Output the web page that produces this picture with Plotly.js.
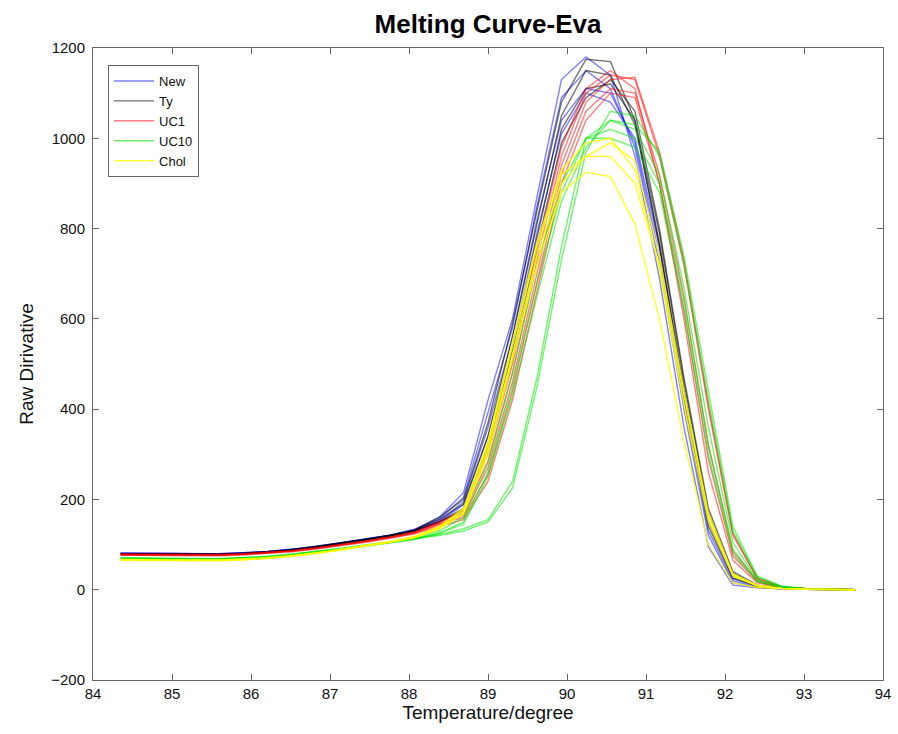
<!DOCTYPE html>
<html>
<head>
<meta charset="utf-8">
<script src="https://cdn.plot.ly/plotly-3.0.1.min.js"></script>
<style>html,body{margin:0;padding:0;background:#fff;}#chart{width:898px;height:734px;}</style>
</head>
<body>
<div id="chart"></div>
<script>
// Temperature grid (degree)
const temperature = [84.35, 84.66, 84.97, 85.28, 85.59, 85.90, 86.21, 86.52, 86.83, 87.14,
  87.45, 87.76, 88.07, 88.38, 88.69, 89.00, 89.31, 89.62, 89.93, 90.24,
  90.55, 90.86, 91.17, 91.48, 91.79, 92.10, 92.41, 92.72, 93.03, 93.34, 93.65];

const groupNames = ["New", "Ty", "UC1", "UC10", "Chol"];

// New (blue)
const newCurves = [
  [82,82,81,80,80,82,85,90,96,104,112,121,133,160,215,420,600,870,1130,1180,1140,960,690,360,95,10,4,2,1,1,0],
  [81,81,80,80,80,82,85,90,96,104,112,121,134,156,205,390,580,850,1090,1150,1110,980,720,400,120,15,5,2,1,1,0],
  [80,80,80,79,79,81,84,89,95,103,111,120,132,152,195,360,560,820,1040,1110,1100,990,740,420,130,20,6,2,1,1,0],
  [80,80,79,79,79,81,84,89,95,103,111,120,131,150,188,340,540,790,1010,1100,1080,1000,760,440,150,25,8,3,1,1,0]
];
// Ty (black)
const tyCurves = [
  [80,80,79,79,79,81,84,89,96,104,112,121,132,160,200,370,590,840,1080,1175,1170,1040,760,430,140,25,8,3,1,1,0],
  [79,79,79,78,78,80,83,88,95,103,111,120,131,155,190,340,560,810,1050,1150,1140,1030,770,440,150,30,8,3,1,1,0],
  [79,79,78,78,78,80,83,88,94,102,110,119,130,150,180,320,530,780,1020,1110,1120,1040,790,460,170,35,10,3,1,1,0],
  [78,78,78,77,77,79,82,87,93,101,109,118,129,150,175,310,510,760,990,1090,1130,1060,800,470,180,40,10,3,1,1,0]
];
// UC1 (red)
const uc1Curves = [
  [79,79,78,78,78,80,83,87,93,100,108,117,128,150,175,300,500,750,980,1110,1150,1110,900,600,260,65,15,5,2,1,0],
  [78,78,77,77,77,79,82,86,92,99,107,116,127,148,170,285,480,730,960,1100,1140,1130,960,720,400,120,25,6,2,1,0],
  [78,78,77,77,77,79,82,86,92,99,107,116,126,145,165,270,460,700,940,1080,1130,1135,970,730,410,125,25,6,2,1,0],
  [77,77,76,76,76,78,81,85,91,98,106,115,125,145,160,255,440,680,920,1060,1110,1100,920,650,320,85,20,5,2,1,0],
  [76,76,76,75,75,77,80,84,90,97,105,114,124,140,155,240,420,660,900,1040,1100,1090,900,620,290,75,18,5,2,1,0]
];
// UC10 (green)
const uc10Curves = [
  [71,70,69,69,69,71,74,79,85,92,99,106,114,122,135,155,240,470,760,1000,1040,1030,970,740,440,140,30,8,2,1,0],
  [70,69,68,68,68,70,73,78,84,91,98,105,113,120,130,150,225,450,730,970,1060,1050,960,720,420,130,28,7,2,1,0],
  [69,68,68,67,67,69,72,77,83,90,97,104,112,125,150,260,450,680,880,1000,1020,1000,900,640,320,90,20,5,2,1,0],
  [70,69,68,68,68,70,73,78,84,91,98,105,114,130,160,280,480,720,900,1000,1000,980,880,620,300,80,18,5,2,1,0],
  [68,67,67,66,66,68,71,76,82,89,96,103,111,125,145,250,430,650,860,980,1040,1020,920,670,360,105,22,6,2,1,0]
];
// Chol (yellow)
const cholCurves = [
  [67,66,66,66,66,68,71,76,82,90,98,107,118,140,180,330,550,770,930,990,1000,930,710,410,150,30,8,3,1,1,0],
  [66,66,65,65,65,67,70,75,81,89,97,106,117,138,175,320,540,760,920,960,990,950,740,440,170,35,10,3,1,1,0],
  [66,65,65,65,65,67,70,75,81,89,97,106,116,135,170,310,520,740,900,960,960,900,720,430,160,32,9,3,1,1,0],
  [65,65,64,64,64,66,69,74,80,88,96,105,115,135,168,300,510,720,880,925,915,810,600,330,100,15,5,2,1,1,0]
];

const groupCurves = [newCurves, tyCurves, uc1Curves, uc10Curves, cholCurves];
const lineColors = ["rgba(0,0,255,0.5)", "rgba(0,0,0,0.55)", "rgba(255,0,0,0.5)", "rgba(0,230,0,0.55)", "rgba(255,255,0,0.85)"];

const traces = [];
groupCurves.forEach((curves, g) => {
  curves.forEach((ys, i) => {
    traces.push({
      x: temperature, y: ys, type: 'scatter', mode: 'lines',
      name: groupNames[g], legendgroup: groupNames[g], showlegend: i === 0,
      line: {color: lineColors[g], width: 1.4},
      hoverinfo: 'skip'
    });
  });
});

const FONT = 'Arial, Liberation Sans, sans-serif';
const axisCommon = {
  showgrid: false, zeroline: false, showline: true, linecolor: '#666', linewidth: 1,
  mirror: 'ticks', ticks: 'inside', ticklen: 6, tickcolor: '#666',
  tickfont: {family: FONT, size: 15, color: '#111'}
};

const layout = {
  width: 898, height: 734,
  margin: {l: 93, r: 15, t: 48, b: 54},
  paper_bgcolor: '#fff', plot_bgcolor: '#fff',
  title: {text: '<b>Melting Curve-Eva</b>', font: {family: FONT, size: 26, color: '#000'},
          xref: 'paper', x: 0.5, xanchor: 'center', y: 0.968, yanchor: 'middle'},
  xaxis: Object.assign({}, axisCommon, {
    range: [84, 94], dtick: 1, tick0: 84,
    title: {text: 'Temperature/degree', font: {family: FONT, size: 19, color: '#111'}, standoff: 2}
  }),
  yaxis: Object.assign({}, axisCommon, {
    range: [-200, 1200], dtick: 200, tick0: -200, ticklabelstandoff: 4,
    title: {text: 'Raw Dirivative', font: {family: FONT, size: 19, color: '#111'}, standoff: 12}
  }),
  legend: {
    x: 0.019, y: 0.973, xanchor: 'left', yanchor: 'top',
    bgcolor: '#fff', bordercolor: '#666', borderwidth: 1,
    font: {family: FONT, size: 13, color: '#111'},
    tracegroupgap: 0, itemwidth: 40
  },
  showlegend: true
};

Plotly.newPlot('chart', traces, layout, {staticPlot: true, displayModeBar: false});
</script>
</body>
</html>
